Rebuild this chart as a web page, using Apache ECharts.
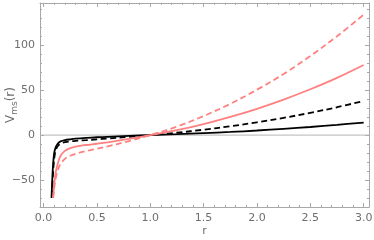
<!DOCTYPE html>
<html><head><meta charset="utf-8">
<script src="https://cdn.jsdelivr.net/npm/echarts@6/dist/echarts.min.js"></script>
<style>html,body{margin:0;padding:0;background:#fff}#c{width:374px;height:240px}</style>
</head><body><div id="c"></div>
<script>
// r grid (shared), values per curve (null = not drawn)
const r = [0.075,0.08,0.085,0.09,0.095,0.1,0.11,0.12,0.14,0.16,0.2,0.25,0.3,0.4,0.5,0.6,0.8,1.0,1.25,1.5,1.75,2.0,2.25,2.5,2.75,3.0];
const blackSolid  = [-70,-55,-42,-32,-25,-20,-15,-12,-8.7,-7,-5.6,-4.7,-4,-3.1,-2.4,-1.9,-0.9,0,1.0,2.2,3.5,5.1,7.0,9.0,11.4,14];
const blackDashed = [null,-68,-52,-41,-33,-26,-19,-15,-11.3,-9.5,-7.9,-7,-6.4,-5.6,-4.7,-3.8,-2.0,0,2.7,6,9.8,14.2,19.2,24.8,31,38];
const pinkSolid   = [null,null,null,-70,-62,-55,-45,-38,-29,-23,-17.5,-14.5,-12.8,-11,-9.6,-8,-4.2,0,5.5,12.3,20.3,29.3,39.5,51,63.7,78];
const pinkDashed  = [null,null,null,-70,-64,-59,-51,-45,-37,-32,-26.5,-23,-20.8,-17.8,-15.2,-12.6,-6.6,0,9.5,21.2,34.8,50.5,68,88,110,134];
const xMajor = [0,0.5,1.0,1.5,2.0,2.5,3.0];
const xMinor = [0.1,0.2,0.3,0.4,0.6,0.7,0.8,0.9,1.1,1.2,1.3,1.4,1.6,1.7,1.8,1.9,2.1,2.2,2.3,2.4,2.6,2.7,2.8,2.9,3.0];
const yMajor = [-50,0,50,100];
const yMinor = [-70,-60,-40,-30,-20,-10,10,20,30,40,60,70,80,90,110,120,130,140];

const frame = '#a8a8a8', lab = '#6e6e6e';
const pairs = v => r.map((x,i)=> v[i]==null ? null : [x, v[i]]).filter(p=>p);

function xa(pos, vals, len, labels, line){
  return {type:'value', position:pos, min:-0.033, max:3.05,
    axisLine:{show:line, onZero:false, lineStyle:{color:frame, width:1}},
    axisTick:{show:true, inside:true, length:len, customValues:vals, lineStyle:{color:frame}},
    axisLabel:{show:labels, customValues:vals, color:lab, fontSize:11, fontFamily:'DejaVu Sans', margin:6, formatter:v=>v.toFixed(1)},
    splitLine:{show:false}};
}
function ya(pos, vals, len, labels, line){
  return {type:'value', position:pos, min:-80, max:147,
    axisLine:{show:line, onZero:false, lineStyle:{color:frame, width:1}},
    axisTick:{show:true, inside:true, length:len, customValues:vals, lineStyle:{color:frame}},
    axisLabel:{show:labels, customValues:vals, color:lab, fontSize:11, fontFamily:'DejaVu Sans', margin:5, formatter:v=>v<0?'\u2212'+(-v):String(v)},
    splitLine:{show:false}};
}
const xAxes = [xa('bottom', xMajor, 4, true, true), xa('bottom', xMinor, 2, false, false), xa('top', xMajor, 4, false, true), xa('top', xMinor, 2, false, false)];
xAxes[0].name = 'r'; xAxes[0].nameLocation='middle'; xAxes[0].nameGap = 19; xAxes[0].nameMoveOverlap = false;
xAxes[0].nameTextStyle = {color:lab, fontSize:11, fontFamily:'DejaVu Sans'};
const yAxes = [ya('left', yMajor, 4, true, true), ya('left', yMinor, 2, false, false), ya('right', yMajor, 4, false, true), ya('right', yMinor, 2, false, false)];
yAxes[0].name = '{a|V}{b|ms}{a|(r)}'; yAxes[0].nameLocation='middle'; yAxes[0].nameGap = 21; yAxes[0].nameRotate = 90; yAxes[0].nameMoveOverlap = false;
yAxes[0].nameTextStyle = {color:lab, rich:{a:{fontSize:12, fontFamily:'DejaVu Sans', color:lab}, b:{fontSize:9, fontFamily:'DejaVu Sans', color:lab, verticalAlign:'bottom', padding:[7,0,0,0]}}};

function s(name, data, color, dashed){
  return {name, type:'line', data:pairs(data), showSymbol:false, smooth:0.35, silent:true,
    lineStyle:{color, width:1.8, type: dashed?[6,3.5]:'solid'}, z: 3};
}
const series = [
  {type:'line', data:[[-0.033,0],[3.05,0]], showSymbol:false, silent:true, lineStyle:{color:'#b4b4b4', width:1}, z:1},
  s('bd', blackDashed, '#000', true),
  s('bs', blackSolid, '#000', false),
  s('pd', pinkDashed, '#ff8080', true),
  s('ps', pinkSolid, '#ff8080', false)
];
const chart = echarts.init(document.getElementById('c'), null, {renderer:'canvas'});
chart.setOption({animation:false, backgroundColor:'#fff',
  grid:{left:40, right:5, top:3, bottom:33, containLabel:false, outerBoundsMode:'none'},
  xAxis:xAxes, yAxis:yAxes, series});
</script></body></html>
